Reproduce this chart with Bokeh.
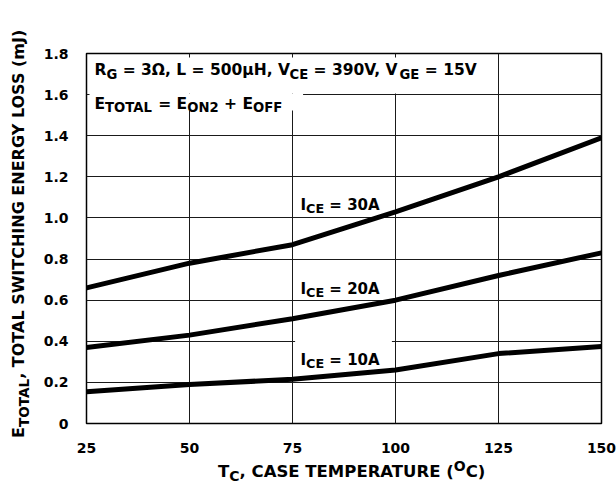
from bokeh.plotting import figure
from bokeh.models import (Range1d, FixedTicker, CustomJSTickFormatter, Label, BoxAnnotation,
                          Div)
from bokeh.layouts import row, column
from bokeh.embed import file_html
from bokeh.resources import INLINE

# ---------------- data ----------------
temps = [25, 50, 75, 100, 125, 150]
e_ice_30a = [0.66, 0.78, 0.87, 1.03, 1.20, 1.39]
e_ice_20a = [0.37, 0.43, 0.51, 0.60, 0.72, 0.83]
e_ice_10a = [0.155, 0.19, 0.215, 0.26, 0.34, 0.375]
x_ticks = [25, 50, 75, 100, 125, 150]
y_ticks = [0, 0.2, 0.4, 0.6, 0.8, 1.0, 1.2, 1.4, 1.6, 1.8]

FONT = "DejaVu Sans"
# page pixel of the frame's bottom-left corner (text is placed by pixel offsets from it)
FX0, FY0 = 85, 423
X0, X1, Y0, Y1 = 25, 150, 0, 1.8
FW, FH = 516, 370

W = {' ': 0.348, ',': 0.380, '.': 0.380, '(': 0.458, ')': 0.458, '=': 0.838, '+': 0.838,
     'A': 0.774, 'C': 0.734, 'E': 0.683, 'F': 0.683, 'G': 0.821, 'H': 0.837, 'I': 0.372,
     'J': 0.372, 'L': 0.637, 'M': 0.995, 'N': 0.837, 'O': 0.850, 'P': 0.733, 'R': 0.770,
     'S': 0.720, 'T': 0.682, 'U': 0.812, 'V': 0.774, 'W': 1.103, 'Y': 0.724, 'm': 1.042,
     'Ω': 0.842, 'μ': 0.712}


def text_width(s, size):
    return sum(W.get(c, 0.696) for c in s) * size


SUB_SCALE = 0.85


def seg_text(p, segs, x0, y0, size):
    adv = 0.0
    for txt, kind in segs:
        s = size if kind == "n" else size * SUB_SCALE
        shift = 0 if kind == "n" else (-size * 0.28 if kind == "sub" else size * 0.40)
        lead = len(txt) - len(txt.lstrip(" "))
        adv += lead * W[' '] * s
        core = txt.strip(" ")
        if core:
            p.add_layout(Label(x=X0, y=Y0, x_offset=(x0 - FX0) + adv,
                               y_offset=(FY0 - y0) + shift, text=core,
                               text_font=FONT, text_font_size=f"{s:.1f}px",
                               text_font_style="bold", text_color="black",
                               text_baseline="alphabetic", text_align="left"))
        adv += text_width(txt.lstrip(" "), s)


def seg_html(segs, size, sub_shift=0.28, sup_shift=0.42):
    out = []
    for txt, kind in segs:
        if kind == "n":
            out.append(txt)
        else:
            top = size * sub_shift if kind == "sub" else -size * sup_shift
            out.append(f'<span style="font-size:{size * SUB_SCALE:.1f}px;position:relative;'
                       f'top:{top:.1f}px;">{txt}</span>')
    return "".join(out)


def px2x(px):
    return X0 + (px - FX0) * (X1 - X0) / FW


def px2y(py):
    return Y0 + (FY0 - py) * (Y1 - Y0) / FH


LEFT_W, FIG_W, FIG_H, TOTAL_W, TOTAL_H = 40, 576, 455, 616, 485

p = figure(width=FIG_W, height=FIG_H, output_backend="svg", toolbar_location=None,
           x_range=Range1d(X0, X1), y_range=Range1d(Y0, Y1),
           min_border_left=FX0 - LEFT_W, min_border_right=TOTAL_W - (FX0 + FW),
           min_border_top=FY0 - FH, min_border_bottom=FIG_H - FY0, margin=0)
p.background_fill_color = "white"
p.border_fill_color = "white"
p.outline_line_color = "black"
p.outline_line_width = 1.5

for ax in (p.xaxis, p.yaxis):
    ax.axis_line_color = None
    ax.major_tick_line_color = None
    ax.minor_tick_line_color = None
    ax.major_label_text_font = FONT
    ax.major_label_text_font_style = "bold"
    ax.major_label_text_font_size = "14px"
    ax.major_label_text_color = "black"
p.xaxis.ticker = FixedTicker(ticks=x_ticks)
p.yaxis.ticker = FixedTicker(ticks=y_ticks)
p.yaxis.formatter = CustomJSTickFormatter(code="return tick == 0 ? '0' : tick.toFixed(1);")
p.xaxis.major_label_standoff = 13
p.yaxis.major_label_standoff = 12

p.xgrid.ticker = FixedTicker(ticks=x_ticks)
p.ygrid.ticker = FixedTicker(ticks=y_ticks)
for g in (p.xgrid, p.ygrid):
    g.grid_line_color = "#1a1a1a"
    g.grid_line_width = 1
    g.grid_line_alpha = 1

# white backgrounds behind the annotation texts
p.add_layout(BoxAnnotation(left=px2x(88), right=px2x(485), top=px2y(57), bottom=px2y(93),
                           fill_color="white", fill_alpha=1, line_color=None, level="underlay"))
p.add_layout(BoxAnnotation(left=px2x(88), right=px2x(302), top=px2y(93), bottom=px2y(110),
                           fill_color="white", fill_alpha=1, line_color=None, level="underlay"))
p.add_layout(BoxAnnotation(left=px2x(294), right=px2x(391), top=px2y(335), bottom=px2y(366),
                           fill_color="white", fill_alpha=1, line_color=None, level="underlay"))

for ys in (e_ice_30a, e_ice_20a, e_ice_10a):
    p.line(temps, ys, line_color="black", line_width=5)

# annotation texts
seg_text(p, [("R", "n"), ("G", "sub"), (" = 3Ω, L = 500μH, V", "n"), ("CE", "sub"),
             (" = 390V, V", "n"), ("GE", "sub"), (" = 15V", "n")], 93, 69.5, 15.5)
seg_text(p, [("E", "n"), ("TOTAL", "sub"), (" = E", "n"), ("ON2", "sub"),
             (" + E", "n"), ("OFF", "sub")], 93, 103, 15.5)
seg_text(p, [("I", "n"), ("CE", "sub"), (" = 30A", "n")], 299, 204, 15)
seg_text(p, [("I", "n"), ("CE", "sub"), (" = 20A", "n")], 299, 288, 15)
seg_text(p, [("I", "n"), ("CE", "sub"), (" = 10A", "n")], 299, 359, 15)

# axis titles (HTML so that they are not clipped by the frame)
YT_SIZE = 16
XT_SIZE = 16.5


def title_style(size):
    return (f"position:absolute;left:0px;top:0px;white-space:nowrap;font-family:'{FONT}';"
            f"font-weight:bold;font-size:{size}px;line-height:{size}px;color:black;")


def base_shift(size):
    # baseline position inside a line box of height = font size (DejaVu Sans metrics)
    return size * (0.928 - 0.082)


y_title = seg_html([("E", "n"), ("TOTAL", "sub"),
                    (", TOTAL SWITCHING ENERGY LOSS (mJ)", "n")], YT_SIZE)
y_div = Div(text=f'<div style="{title_style(YT_SIZE)}transform-origin:0 0;'
                 f'transform:translate({24 - base_shift(YT_SIZE):.1f}px,438px) rotate(-90deg);">'
                 f'{y_title}</div>',
            width=LEFT_W, height=FIG_H, margin=0,
            styles={"position": "relative", "overflow": "visible"})

x_title = seg_html([("T", "n"), ("C", "sub"), (", CASE TEMPERATURE (", "n"), ("O", "sup"),
                    ("C)", "n")], XT_SIZE, sub_shift=0.21, sup_shift=0.38)
x_div = Div(text=f'<div style="{title_style(XT_SIZE)}transform:translate(218px,'
                 f'{478 - FIG_H - base_shift(XT_SIZE):.1f}px);">{x_title}</div>',
            width=TOTAL_W, height=TOTAL_H - FIG_H, margin=0,
            styles={"position": "relative", "overflow": "hidden"})

layout = column(row(y_div, p, spacing=0), x_div, spacing=0)

open("out.html", "w").write(file_html(layout, INLINE))
